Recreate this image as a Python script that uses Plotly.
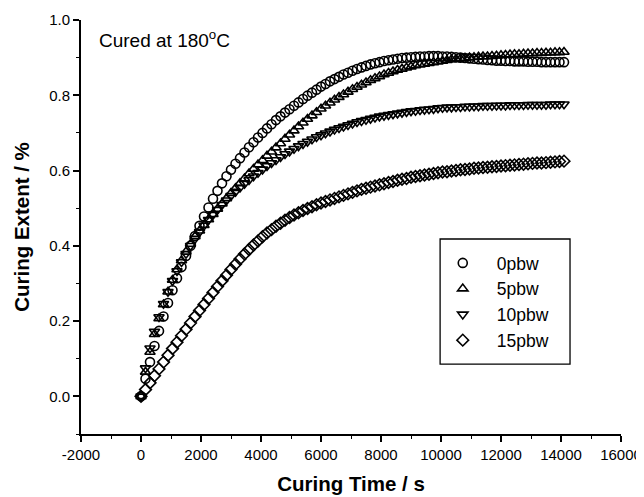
import plotly.graph_objects as go

# Curing time (s) for every sample
time_s = [i * 150 for i in range(95)]

pbw0 = [0.000, 0.047, 0.091, 0.134, 0.174, 0.212, 0.248, 0.282, 0.314, 0.344,
        0.373, 0.400, 0.426, 0.453, 0.478, 0.502, 0.525, 0.546, 0.566, 0.585,
        0.602, 0.618, 0.633, 0.648, 0.662, 0.675, 0.688, 0.700, 0.712, 0.723,
        0.734, 0.744, 0.754, 0.763, 0.772, 0.781, 0.790, 0.799, 0.807, 0.815,
        0.823, 0.830, 0.837, 0.843, 0.849, 0.855, 0.860, 0.865, 0.870, 0.874,
        0.878, 0.882, 0.885, 0.888, 0.891, 0.893, 0.895, 0.897, 0.899, 0.900,
        0.901, 0.902, 0.903, 0.903, 0.904, 0.904, 0.904, 0.903, 0.903, 0.902,
        0.901, 0.900, 0.899, 0.898, 0.897, 0.896, 0.895, 0.894, 0.893, 0.892,
        0.892, 0.891, 0.891, 0.890, 0.890, 0.890, 0.889, 0.889, 0.889, 0.888,
        0.888, 0.888, 0.888, 0.888, 0.888]

pbw5 = [0.000, 0.065, 0.118, 0.165, 0.207, 0.244, 0.278, 0.309, 0.337, 0.361,
        0.384, 0.405, 0.425, 0.440, 0.455, 0.470, 0.484, 0.498, 0.512, 0.526,
        0.540, 0.553, 0.566, 0.579, 0.592, 0.604, 0.616, 0.627, 0.639, 0.650,
        0.661, 0.672, 0.684, 0.695, 0.706, 0.717, 0.727, 0.737, 0.746, 0.755,
        0.764, 0.772, 0.780, 0.788, 0.795, 0.802, 0.809, 0.816, 0.822, 0.828,
        0.834, 0.840, 0.845, 0.850, 0.855, 0.859, 0.863, 0.867, 0.870, 0.873,
        0.876, 0.879, 0.881, 0.883, 0.885, 0.887, 0.889, 0.891, 0.893, 0.895,
        0.896, 0.897, 0.899, 0.900, 0.901, 0.902, 0.903, 0.903, 0.904, 0.905,
        0.906, 0.907, 0.908, 0.909, 0.909, 0.910, 0.911, 0.911, 0.912, 0.912,
        0.913, 0.913, 0.914, 0.914, 0.915]

pbw10 = [0.000, 0.075, 0.128, 0.172, 0.211, 0.246, 0.278, 0.307, 0.333, 0.357,
         0.379, 0.400, 0.419, 0.437, 0.454, 0.469, 0.483, 0.496, 0.509, 0.521,
         0.533, 0.544, 0.555, 0.565, 0.575, 0.585, 0.594, 0.603, 0.612, 0.620,
         0.628, 0.636, 0.644, 0.651, 0.658, 0.665, 0.671, 0.677, 0.683, 0.689,
         0.694, 0.699, 0.704, 0.709, 0.713, 0.717, 0.721, 0.725, 0.729, 0.732,
         0.735, 0.738, 0.741, 0.744, 0.746, 0.748, 0.750, 0.752, 0.754, 0.756,
         0.758, 0.759, 0.761, 0.762, 0.763, 0.764, 0.766, 0.767, 0.768, 0.768,
         0.769, 0.769, 0.770, 0.770, 0.771, 0.771, 0.772, 0.772, 0.772, 0.773,
         0.773, 0.773, 0.774, 0.774, 0.774, 0.774, 0.775, 0.775, 0.775, 0.775,
         0.775, 0.776, 0.776, 0.776, 0.776]

pbw15 = [0.000, 0.018, 0.036, 0.055, 0.073, 0.091, 0.109, 0.127, 0.144, 0.161,
         0.178, 0.195, 0.212, 0.228, 0.244, 0.260, 0.276, 0.292, 0.307, 0.322,
         0.337, 0.351, 0.365, 0.378, 0.390, 0.402, 0.413, 0.424, 0.434, 0.443,
         0.452, 0.460, 0.468, 0.475, 0.482, 0.488, 0.494, 0.499, 0.504, 0.509,
         0.514, 0.518, 0.522, 0.526, 0.530, 0.534, 0.538, 0.542, 0.546, 0.550,
         0.553, 0.556, 0.559, 0.562, 0.565, 0.568, 0.571, 0.574, 0.577, 0.579,
         0.582, 0.584, 0.586, 0.588, 0.590, 0.592, 0.594, 0.596, 0.597, 0.599,
         0.600, 0.602, 0.603, 0.604, 0.606, 0.607, 0.608, 0.609, 0.610, 0.611,
         0.612, 0.613, 0.614, 0.615, 0.616, 0.617, 0.618, 0.619, 0.620, 0.620,
         0.621, 0.622, 0.623, 0.624, 0.625]

series_names = ["0pbw", "5pbw", "10pbw", "15pbw"]
series_values = [pbw0, pbw5, pbw10, pbw15]
symbols = ["circle-open", "triangle-up-open", "triangle-down-open", "diamond-open"]

x_ticks = list(range(-2000, 16001, 2000))
y_ticks = [0.0, 0.2, 0.4, 0.6, 0.8, 1.0]

FONT = "Arial, Liberation Sans, Helvetica, sans-serif"

fig = go.Figure()
for name, vals, sym in zip(series_names, series_values, symbols):
    fig.add_trace(go.Scatter(
        x=time_s, y=vals, name=name, mode="markers",
        marker=dict(symbol=sym, size=9, color="black",
                    line=dict(color="black", width=1.6)),
    ))

# page body has an 8px margin, so the figure is shrunk by that amount
fig.update_layout(
    width=636, height=489,
    margin=dict(l=73, r=23, t=12, b=63, autoexpand=False),
    plot_bgcolor="white", paper_bgcolor="white",
    font=dict(family=FONT, color="black", size=15),
    showlegend=True,
    legend=dict(
        x=0.644, y=0.4565, xanchor="left", yanchor="top",
        borderwidth=0, bgcolor="rgba(0,0,0,0)",
        font=dict(size=17.5, family=FONT),
        itemwidth=58, tracegroupgap=0,
    ),
)

# legend frame
fig.add_shape(type="rect", xref="paper", yref="paper",
              x0=0.665, x1=0.9056, y0=0.169, y1=0.471,
              line=dict(color="black", width=1.3), fillcolor="rgba(0,0,0,0)",
              layer="above")

fig.update_xaxes(
    range=[-2000, 16000], tickvals=x_ticks, ticktext=[str(v) for v in x_ticks],
    showline=True, linecolor="black", linewidth=2, mirror=False,
    ticks="outside", ticklen=6, tickwidth=1.5, tickcolor="black",
    showgrid=False, zeroline=False, automargin=False,
    minor=dict(dtick=1000, ticks="outside", ticklen=3, tickwidth=1.2,
               tickcolor="black", showgrid=False),
    tickfont=dict(size=15),
    title=dict(text="<b>Curing Time / s</b>", font=dict(size=20.5), standoff=15),
)
fig.update_yaxes(
    range=[-0.1, 1.0], tickvals=y_ticks, ticktext=[f"{v:.1f}" for v in y_ticks],
    showline=True, linecolor="black", linewidth=2, mirror=False,
    ticks="outside", ticklen=6, tickwidth=1.5, tickcolor="black",
    showgrid=False, zeroline=False, automargin=False,
    minor=dict(tick0=0, dtick=0.1, ticks="outside", ticklen=3, tickwidth=1.2,
               tickcolor="black", showgrid=False),
    tickfont=dict(size=15),
    title=dict(text="<b>Curing Extent / %</b>", font=dict(size=20.5), standoff=14),
)

fig.add_annotation(
    text="Cured at 180<sup>o</sup>C", xref="paper", yref="paper",
    x=0.0296, y=0.954, xanchor="left", yanchor="middle", showarrow=False,
    font=dict(size=19, family=FONT),
)

fig.write_html("out.html")
